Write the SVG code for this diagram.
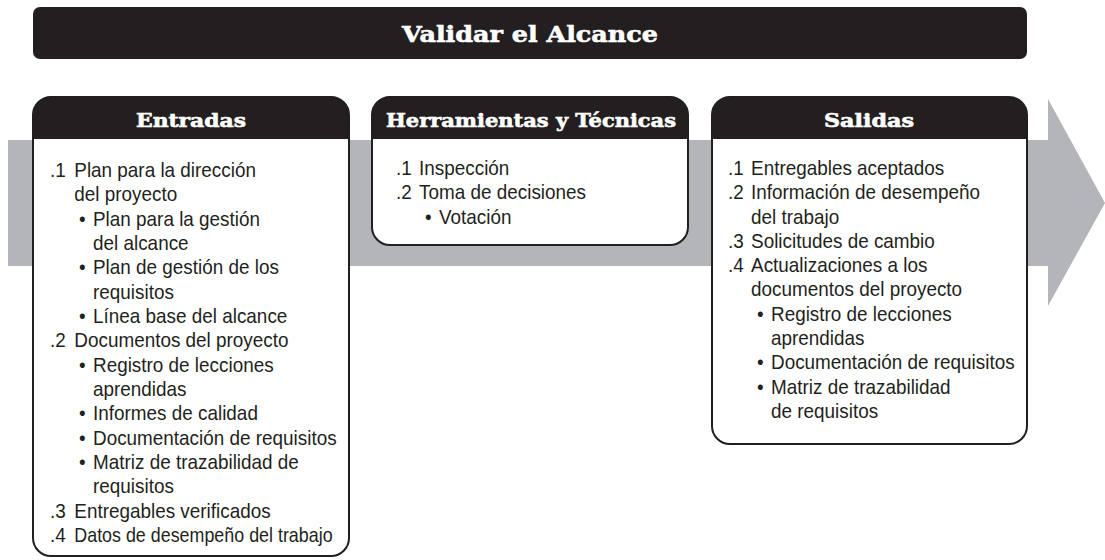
<svg xmlns="http://www.w3.org/2000/svg" width="1105" height="560" viewBox="0 0 1105 560">
<style>
.box{fill:#fff;stroke:#231f20;stroke-width:2}
.hdr{fill:#231f20}
.ht{font-family:"DejaVu Serif","Liberation Serif",serif;font-weight:bold;fill:#fff;stroke:#fff;stroke-width:0.6;text-anchor:middle}
.t{font-family:"Liberation Sans",Arial,sans-serif;font-size:21px;fill:#231f20}
</style>
<rect width="1105" height="560" fill="#fff"/>
<g id="flow-arrow">
<polygon points="8,140 1048,140 1048,99 1105,203 1048,306 1048,266 8,266" fill="#b3b5b8"/>
</g>
<g id="title">
<rect x="33" y="7" width="994" height="52" rx="7" fill="#231f20"/>
<text class="ht" x="530" y="42" font-size="23" textLength="256" lengthAdjust="spacingAndGlyphs">Validar el Alcance</text>
</g>
<g id="entradas">
<path class="box" d="M51,97 H331 A18,18 0 0 1 349,115 V538 A18,18 0 0 1 331,556 H51 A18,18 0 0 1 33,538 V115 A18,18 0 0 1 51,97 Z"/>
<path class="hdr" d="M33,139 V115 A18,18 0 0 1 51,97 H331 A18,18 0 0 1 349,115 V139 Z"/>
<text class="ht" x="191" y="127" font-size="19" textLength="110" lengthAdjust="spacingAndGlyphs">Entradas</text>
<g transform="translate(50,0) scale(0.9,1)">
<text class="t" x="0" y="177">.1</text><text class="t" x="27" y="177">Plan para la dirección</text>
<text class="t" x="27" y="201.3">del proyecto</text>
<text class="t" x="32.2" y="225.7">•</text><text class="t" x="47.8" y="225.7">Plan para la gestión</text>
<text class="t" x="47.8" y="250">del alcance</text>
<text class="t" x="32.2" y="274.3">•</text><text class="t" x="47.8" y="274.3">Plan de gestión de los</text>
<text class="t" x="47.8" y="298.7">requisitos</text>
<text class="t" x="32.2" y="323">•</text><text class="t" x="47.8" y="323">Línea base del alcance</text>
<text class="t" x="0" y="347.3">.2</text><text class="t" x="27" y="347.3">Documentos del proyecto</text>
<text class="t" x="32.2" y="371.7">•</text><text class="t" x="47.8" y="371.7">Registro de lecciones</text>
<text class="t" x="47.8" y="396">aprendidas</text>
<text class="t" x="32.2" y="420.3">•</text><text class="t" x="47.8" y="420.3">Informes de calidad</text>
<text class="t" x="32.2" y="444.7">•</text><text class="t" x="47.8" y="444.7">Documentación de requisitos</text>
<text class="t" x="32.2" y="469">•</text><text class="t" x="47.8" y="469">Matriz de trazabilidad de</text>
<text class="t" x="47.8" y="493.3">requisitos</text>
<text class="t" x="0" y="517.7">.3</text><text class="t" x="27" y="517.7">Entregables verificados</text>
<text class="t" x="0" y="542">.4</text><text class="t" x="27" y="542" textLength="287" lengthAdjust="spacingAndGlyphs">Datos de desempeño del trabajo</text>
</g>
</g>
<g id="herramientas">
<path class="box" d="M390,97 H670 A18,18 0 0 1 688,115 V227 A18,18 0 0 1 670,245 H390 A18,18 0 0 1 372,227 V115 A18,18 0 0 1 390,97 Z"/>
<path class="hdr" d="M372,139 V115 A18,18 0 0 1 390,97 H670 A18,18 0 0 1 688,115 V139 Z"/>
<text class="ht" x="531" y="127" font-size="19" textLength="290" lengthAdjust="spacingAndGlyphs">Herramientas y Técnicas</text>
<g transform="translate(396,0) scale(0.9,1)">
<text class="t" x="0" y="175">.1</text><text class="t" x="25.6" y="175">Inspección</text>
<text class="t" x="0" y="199.3">.2</text><text class="t" x="25.6" y="199.3">Toma de decisiones</text>
<text class="t" x="32.2" y="223.6">•</text><text class="t" x="47.8" y="223.6">Votación</text>
</g>
</g>
<g id="salidas">
<path class="box" d="M730,97 H1009 A18,18 0 0 1 1027,115 V426 A18,18 0 0 1 1009,444 H730 A18,18 0 0 1 712,426 V115 A18,18 0 0 1 730,97 Z"/>
<path class="hdr" d="M712,139 V115 A18,18 0 0 1 730,97 H1009 A18,18 0 0 1 1027,115 V139 Z"/>
<text class="ht" x="869" y="127" font-size="19" textLength="90" lengthAdjust="spacingAndGlyphs">Salidas</text>
<g transform="translate(728,0) scale(0.9,1)">
<text class="t" x="0" y="175">.1</text><text class="t" x="25.6" y="175">Entregables aceptados</text>
<text class="t" x="0" y="199.3">.2</text><text class="t" x="25.6" y="199.3">Información de desempeño</text>
<text class="t" x="25.6" y="223.6">del trabajo</text>
<text class="t" x="0" y="247.9">.3</text><text class="t" x="25.6" y="247.9">Solicitudes de cambio</text>
<text class="t" x="0" y="272.2">.4</text><text class="t" x="25.6" y="272.2">Actualizaciones a los</text>
<text class="t" x="25.6" y="296.5">documentos del proyecto</text>
<text class="t" x="32.2" y="320.8">•</text><text class="t" x="47.8" y="320.8">Registro de lecciones</text>
<text class="t" x="47.8" y="345.1">aprendidas</text>
<text class="t" x="32.2" y="369.4">•</text><text class="t" x="47.8" y="369.4">Documentación de requisitos</text>
<text class="t" x="32.2" y="393.7">•</text><text class="t" x="47.8" y="393.7">Matriz de trazabilidad</text>
<text class="t" x="47.8" y="418">de requisitos</text>
</g>
</g>
</svg>
